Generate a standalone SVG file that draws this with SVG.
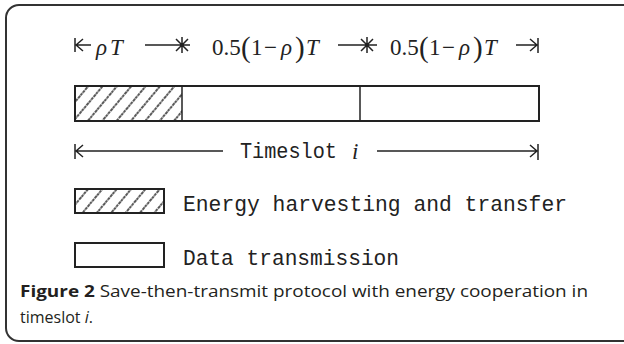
<svg xmlns="http://www.w3.org/2000/svg" width="624" height="344" viewBox="0 0 624 344">
<style>
.m{font-family:"Liberation Serif","Times New Roman",serif;font-size:23px;fill:#222}
.i{font-style:italic}
.p{font-size:29px}
.t{font-family:"Liberation Mono","DejaVu Sans Mono",monospace;font-size:22px;fill:#222}
.cap{font-family:"Open Sans","Liberation Sans",sans-serif;font-size:16px;fill:#231f20}
.ln{stroke:#222;stroke-width:1.5;fill:none}
.box{stroke:#222;stroke-width:2;fill:#fff}
</style>
<defs>
<pattern id="hatch" patternUnits="userSpaceOnUse" width="11" height="11" patternTransform="rotate(40)">
<line x1="2" y1="0" x2="2" y2="11" stroke="#222" stroke-width="1.5" stroke-dasharray="3,0.8"/>
</pattern>
</defs>
<rect x="6" y="5" width="640" height="336" rx="13" fill="#fff" stroke="#333" stroke-width="2"/>
<g id="top-labels">
<text class="m i" x="96" y="55">ρ</text><text class="m i" x="110" y="55">T</text>
<text class="m" x="212" y="55">0.5</text><text class="m p" x="241" y="57">(</text><text class="m" x="251" y="55">1</text><text class="m" x="264" y="55">−</text><text class="m i" x="281" y="55">ρ</text><text class="m p" x="295" y="57">)</text><text class="m i" x="306" y="55">T</text>
<text class="m" x="390" y="55">0.5</text><text class="m p" x="419" y="57">(</text><text class="m" x="429" y="55">1</text><text class="m" x="442" y="55">−</text><text class="m i" x="459" y="55">ρ</text><text class="m p" x="473" y="57">)</text><text class="m i" x="484" y="55">T</text>
</g>
<g id="connectors">
<path class="ln" d="M75,38V52 M76,45H91 M76,45l7,-6 M76,45l7,6"/>
<path class="ln" d="M145,45H190 M182,37V53 M176,39l12,12 M188,39l-12,12"/>
<path class="ln" d="M338,45H377 M367,37V53 M361,39l12,12 M373,39l-12,12"/>
<path class="ln" d="M516,45H537 M538,38V53 M537,45l-7,-6 M537,45l-7,6"/>
<path class="ln" d="M75,144V159 M76,151H223 M76,151l7,-6 M76,151l7,6"/>
<path class="ln" d="M377,151H537 M538,144V160 M537,151l-7,-6 M537,151l-7,6"/>
</g>
<g id="timeslot-bar">
<rect class="box" x="75" y="86" width="464" height="35"/>
<rect x="76" y="87" width="106" height="33" fill="url(#hatch)"/>
<line class="ln" x1="182" y1="86" x2="182" y2="121" stroke-width="2"/>
<line class="ln" x1="360" y1="86" x2="360" y2="121" stroke-width="2"/>
</g>
<g id="timeslot-label">
<text class="t" x="240" y="158" textLength="97" lengthAdjust="spacingAndGlyphs">Timeslot</text>
<text class="m i" x="352" y="159" font-size="24">i</text>
</g>
<g id="legend-energy">
<rect class="box" x="75" y="189" width="89" height="24" stroke-width="1.6"/>
<rect x="76" y="190" width="87" height="22" fill="url(#hatch)"/>
<text class="t" x="183" y="211" textLength="384" lengthAdjust="spacingAndGlyphs">Energy harvesting and transfer</text>
</g>
<g id="legend-data">
<rect class="box" x="75" y="243" width="89" height="24" stroke-width="1.6"/>
<text class="t" x="183" y="265" textLength="216" lengthAdjust="spacingAndGlyphs">Data transmission</text>
</g>
<g id="caption">
<text class="cap" x="20" y="297" textLength="568" lengthAdjust="spacingAndGlyphs"><tspan font-weight="bold">Figure 2</tspan> Save-then-transmit protocol with energy cooperation in</text>
<text class="cap" x="20" y="323">timeslot <tspan font-style="italic">i</tspan>.</text>
</g>
</svg>
